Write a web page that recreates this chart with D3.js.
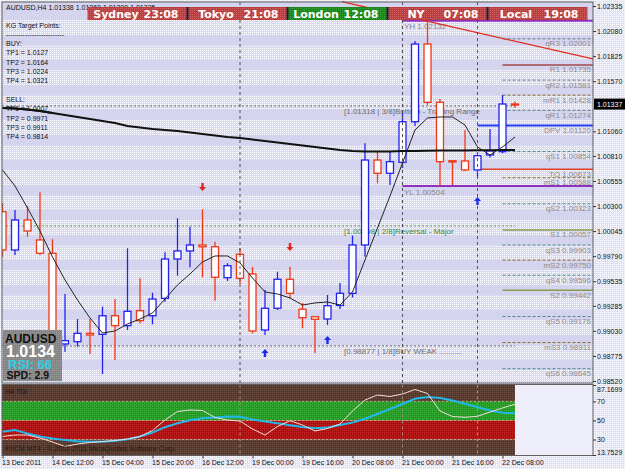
<!DOCTYPE html>
<html>
<head>
<meta charset="utf-8">
<script src="https://cdn.jsdelivr.net/npm/d3@7"></script>
<style>
body { margin: 0; background: #e6e6f6; }
svg { display: block; font-family: "Liberation Sans", Arial, sans-serif; }
</style>
</head>
<body>
<div id="chart"></div>
<script>
let W = 625, H = 469;
let svg = d3.select("#chart").append("svg").attr("width", W).attr("height", H);

/* ---------------- data ---------------- */
let opens  = [1.00242, 0.99853, 1.00158, 0.99955, 0.99819, 0.98897, 0.98920, 0.99005, 0.98995, 0.99184, 0.99083, 0.99235, 0.99184, 0.99361, 0.99761, 0.99843, 0.99904, 0.99886, 0.99571, 0.99809, 0.99609, 0.99039, 0.99260, 0.99555, 0.99250, 0.99174, 0.99151, 0.99288, 0.99412, 0.99904, 1.00768, 1.00633, 1.00745, 1.01158, 1.01948, 1.01355, 1.00761, 1.00758, 1.00667, 1.00819, 1.00853, 1.01338];
let highs  = [1.00331, 1.00260, 1.00300, 1.00440, 0.99962, 0.99405, 0.99151, 0.99151, 0.99276, 0.99354, 0.99870, 0.99565, 0.99418, 0.99829, 1.00175, 1.00090, 1.00267, 0.99937, 0.99718, 0.99873, 0.99680, 0.99446, 0.99632, 0.99683, 0.99314, 0.99174, 0.99395, 0.99517, 1.00000, 1.00938, 1.00853, 1.00853, 1.01243, 1.01979, 1.02185, 1.01389, 1.00768, 1.01074, 1.00850, 1.01084, 1.01430, 1.01360];
let lows   = [0.99785, 0.99802, 0.99988, 0.99802, 0.98886, 0.98818, 0.98869, 0.98795, 0.98591, 0.98734, 0.99039, 0.99107, 0.99097, 0.99327, 0.99591, 0.99677, 0.99575, 0.99337, 0.99537, 0.99507, 0.99005, 0.98988, 0.99242, 0.99361, 0.99056, 0.98805, 0.99090, 0.99253, 0.99370, 0.99785, 1.00531, 1.00514, 1.00687, 1.01114, 1.01328, 1.00504, 1.00514, 1.00656, 1.00590, 1.00794, 1.00837, 1.01300];
let closes = [0.99853, 1.00158, 1.00046, 0.99819, 0.98958, 0.98930, 0.99005, 0.98988, 0.99184, 0.99083, 0.99229, 0.99134, 0.99354, 0.99761, 0.99843, 0.99904, 0.99886, 0.99575, 0.99693, 0.99565, 0.99029, 0.99260, 0.99555, 0.99412, 0.99164, 0.99148, 0.99286, 0.99412, 0.99904, 1.00768, 1.00633, 1.00751, 1.01158, 1.01948, 1.01355, 1.00751, 1.00748, 1.00667, 1.00812, 1.00860, 1.01338, 1.01335];

let maFast = [1.00667, 1.00504, 1.00280, 1.00046, 0.99782, 0.99548, 0.99344, 0.99161, 0.99008, 0.99029, 0.99100, 0.99151, 0.99212, 0.99354, 0.99497, 0.99609, 0.99731, 0.99792, 0.99792, 0.99721, 0.99568, 0.99426, 0.99405, 0.99365, 0.99293, 0.99314, 0.99324, 0.99293, 0.99426, 0.99751, 1.00077, 1.00402, 1.00738, 1.01074, 1.01196, 1.01206, 1.01206, 1.01124, 1.00901, 1.00819, 1.00901, 1.01002];
let maSlow = [1.01297, 1.01292, 1.01282, 1.01267, 1.01247, 1.01226, 1.01206, 1.01185, 1.01165, 1.01145, 1.01115, 1.01099, 1.01084, 1.01074, 1.01063, 1.01048, 1.01033, 1.01018, 1.01002, 1.00992, 1.00977, 1.00962, 1.00946, 1.00931, 1.00916, 1.00901, 1.00885, 1.00870, 1.00860, 1.00855, 1.00855, 1.00855, 1.00860, 1.00860, 1.00862, 1.00864, 1.00865, 1.00866, 1.00867, 1.00868, 1.00869, 1.00870];

let tdiRsi    = [33.16, 34.73, 34.73, 31.58, 27.39, 22.67, 25.29, 26.86, 27.91, 28.96, 30.53, 33.16, 39.45, 50.46, 59.38, 60.95, 60.43, 53.08, 50.46, 49.41, 41.02, 34.73, 43.64, 49.73, 45.22, 38.92, 41.55, 46.27, 59.90, 71.44, 76.68, 75.11, 77.73, 82.45, 78.26, 59.90, 54.13, 53.29, 54.34, 58.85, 63.05, 66.93];
let tdiSignal = [38.19, 39.97, 36.30, 33.16, 31.06, 29.49, 28.23, 27.70, 27.70, 28.65, 30.32, 33.16, 37.35, 42.91, 47.11, 50.25, 52.35, 53.19, 54.24, 53.92, 50.88, 48.89, 47.00, 45.01, 43.12, 41.86, 42.49, 45.22, 47.73, 51.82, 56.75, 62.00, 67.24, 72.70, 74.58, 73.54, 70.81, 67.45, 63.78, 60.43, 58.01, 57.49];
let tdiTicks  = [87.1699, 70, 50, 30, 13.7529];
let tdiLevels = [70, 50, 30];

let priceTicks = [1.02335, 1.02080, 1.01825, 1.01570, 1.01060, 1.00810, 1.00555, 1.00300, 1.00045, 0.99790, 0.99535, 0.99285, 0.99030, 0.98775, 0.98520];
let bidPrice = 1.01337;

let timeBars   = [0, 4, 8, 12, 16, 20, 24, 28, 32, 36, 40];
let timeLabels = ["13 Dec 2011", "14 Dec 12:00", "15 Dec 04:00", "15 Dec 20:00", "16 Dec 12:00", "19 Dec 00:00", "19 Dec 16:00", "20 Dec 08:00", "21 Dec 00:00", "21 Dec 16:00", "22 Dec 08:00"];
let separatorBars = [19, 32, 38];

let pivotNames  = ["qR3", "R1", "qR2", "mR1", "qR1", "DPV", "qS1", "TO", "mS1", "qS2", "S1", "qS3", "mS2", "qS4", "S2", "qS5", "mS3", "qS6"];
let pivotValues = [1.02001, 1.01735, 1.01581, 1.01428, 1.01274, 1.01120, 1.00854, 1.00673, 1.00588, 1.00323, 1.00057, 0.99903, 0.99750, 0.99596, 0.99442, 0.99176, 0.98911, 0.98645];

let murrayValues = [1.01318, 1.00098, 0.98877];
let murrayLabels = ["[1.01318 | 3/8]Bottom - Trading Range", "[1.00098 | 2/8]Reversal - Major", "[0.98877 | 1/8]BUY WEAK .........."];

let yhLabel = 1.02132, ylLabel = 1.00504;

let upArrowBars = [21, 26, 38], upArrowPrices = [0.98805, 0.98937, 1.00351];
let downArrowBars = [16, 23], downArrowPrices = [1.00494, 0.99883];

let trendBars = [27.14, 47.24], trendPrices = [1.02379, 1.01796];

let sessionNames = ["Sydney", "Tokyo", "London", "NY", "Local"];
let sessionTimes = ["23:08", "21:08", "12:08", "07:08", "19:08"];

let buyTP  = ["1.0127", "1.0164", "1.0224", "1.0321"];
let sellTP = ["1.0007", "0.9971", "0.9911", "0.9814"];
let rsiNow = 66, spread = 2.9;

/* ---------------- scales ---------------- */
let mainL = 2, mainR = 593, mainT = 2, mainB = 383, bandR = 515;
let tdiT = 384.5, tdiB = 455.5;
let x  = d3.scaleLinear().domain([0, 41]).range([2.5, 515]);
let y  = d3.scaleLinear().domain([0.98520, 1.02335]).range([381, 6]);
let yT = d3.scaleLinear().domain([13.7529, 87.1699]).range([455, 385]);
let bars = d3.range(opens.length);

/* ---------------- background ---------------- */
let defs = svg.append("defs");
function dotPattern(id, base, dot) {
  let p = defs.append("pattern").attr("id", id).attr("width", 2).attr("height", 2).attr("patternUnits", "userSpaceOnUse");
  p.append("rect").attr("width", 2).attr("height", 2).attr("fill", base);
  p.append("rect").attr("width", 1).attr("height", 1).attr("fill", dot);
}
dotPattern("dots", "#d9d9f2", "#ffffff");
dotPattern("dotsAxis", "#e2e2f6", "#ffffff");
dotPattern("dotsBrown", "#55372c", "#6e5044");
dotPattern("dotsGreen", "#249a24", "#3cae3c");
dotPattern("dotsRed", "#aa0e0e", "#c42a2a");
dotPattern("dotsRedBox", "#bb3e3e", "#cf6060");
dotPattern("dotsGreenBox", "#1c861c", "#35a035");
dotPattern("dotsGrey", "#848484", "#9a9a9a");

defs.append("clipPath").attr("id", "clipMain").append("rect")
  .attr("x", mainL).attr("y", 0).attr("width", mainR - mainL).attr("height", mainB);
defs.append("clipPath").attr("id", "clipTdi").append("rect")
  .attr("x", mainL).attr("y", tdiT).attr("width", mainR - mainL).attr("height", tdiB - tdiT);

svg.append("rect").attr("width", W).attr("height", H).attr("fill", "url(#dotsAxis)");
svg.append("rect").attr("x", mainL).attr("y", mainT).attr("width", mainR - mainL).attr("height", mainB - mainT).attr("fill", "#d4d4ee");
for (let s = 20; s < mainB - 6; s += 25) {
  svg.append("rect").attr("x", mainL).attr("y", s).attr("width", mainR - mainL).attr("height", 15).attr("fill", "url(#dots)");
}

let gMain = svg.append("g").attr("clip-path", "url(#clipMain)");

/* murray math levels */
murrayValues.forEach((v, k) => {
  gMain.append("line").attr("x1", mainL).attr("x2", bandR).attr("y1", y(v)).attr("y2", y(v))
    .attr("stroke", k == 1 ? "#6a9a6a" : "#6a6a72").attr("stroke-dasharray", "2,2");
  gMain.append("text").attr("x", 344).attr("y", y(v) + 8).attr("font-size", 8)
    .attr("fill", k == 1 ? "#3a8a3a" : "#6c6c6c").text(murrayLabels[k]);
});

/* pivot lines */
pivotNames.forEach((n, k) => {
  let startBar = (n == "DPV" || n == "TO") ? 38 : 40;
  let stroke = "#6a7a84", dash = "3,2", sw = 1;
  if (n == "DPV") { stroke = "#2040f0"; dash = null; sw = 2; }
  else if (n == "TO") { stroke = "#e04028"; dash = null; sw = 1.5; }
  else if (n[0] == "R") { stroke = "#a04848"; dash = null; sw = 1.5; }
  else if (n[0] == "S") { stroke = "#8a9a50"; dash = null; sw = 1.5; }
  else if (n[0] == "m") { stroke = "#8a6a24"; }
  else if (n.indexOf("S") > 0) { stroke = "#4a8a8a"; }
  gMain.append("line").attr("x1", x(startBar)).attr("x2", mainR).attr("y1", y(pivotValues[k])).attr("y2", y(pivotValues[k]))
    .attr("stroke", stroke).attr("stroke-width", sw).attr("stroke-dasharray", dash);
});

/* yesterday high / low */
let yhPrice = highs[34], ylPrice = lows[35];
[yhPrice, ylPrice].forEach(v => {
  gMain.append("line").attr("x1", x(32)).attr("x2", mainR).attr("y1", y(v)).attr("y2", y(v))
    .attr("stroke", "#9030c0").attr("stroke-width", 2);
});
gMain.append("text").attr("x", 404).attr("y", y(yhPrice) + 8).attr("font-size", 8).attr("fill", "#888").text("YH " + yhLabel.toFixed(5));
gMain.append("text").attr("x", 404).attr("y", y(ylPrice) + 9).attr("font-size", 8).attr("fill", "#888").text("YL " + ylLabel.toFixed(5));

/* separators */
separatorBars.forEach(b => {
  svg.append("line").attr("x1", x(b)).attr("x2", x(b)).attr("y1", mainT).attr("y2", tdiB)
    .attr("stroke", "#505050").attr("stroke-dasharray", "3,3");
});

/* candles */
let candle = gMain.selectAll("g.candle").data(bars).join("g").attr("class", "candle");
let colOf = i => closes[i] >= opens[i] ? "#2222ee" : "#ee3816";
candle.append("line")
  .attr("x1", i => x(i)).attr("x2", i => x(i))
  .attr("y1", i => y(highs[i])).attr("y2", i => y(lows[i]))
  .attr("stroke", colOf).attr("stroke-width", 1.3);
candle.append("rect")
  .attr("x", i => x(i) - 3.5).attr("width", 7)
  .attr("y", i => y(Math.max(opens[i], closes[i])))
  .attr("height", i => Math.max(1, y(Math.min(opens[i], closes[i])) - y(Math.max(opens[i], closes[i]))))
  .attr("fill", "white").attr("stroke", colOf).attr("stroke-width", 1.3);

/* moving averages */
let maLine = d3.line().x((d, i) => x(i)).y(d => y(d));
gMain.append("path").attr("d", maLine(maSlow)).attr("fill", "none").attr("stroke", "#111").attr("stroke-width", 2);
gMain.append("path").attr("d", maLine(maFast)).attr("fill", "none").attr("stroke", "#222").attr("stroke-width", 1);

/* arrows */
let arrowUp = "M0,-4L3.5,0L1.2,0L1.2,4L-1.2,4L-1.2,0L-3.5,0Z";
upArrowBars.forEach((b, k) => {
  gMain.append("path").attr("d", arrowUp).attr("fill", "#1a2ae8")
    .attr("transform", "translate(" + x(b) + "," + y(upArrowPrices[k]) + ")");
});
downArrowBars.forEach((b, k) => {
  gMain.append("path").attr("d", arrowUp).attr("fill", "#e02418")
    .attr("transform", "translate(" + x(b) + "," + y(downArrowPrices[k]) + ") scale(1,-1)");
});

/* pivot labels */
pivotNames.forEach((n, k) => {
  gMain.append("text").attr("x", 591).attr("y", y(pivotValues[k]) + 7.5).attr("text-anchor", "end")
    .attr("font-size", 8).attr("fill", "#8c8c8c").text(n + " " + pivotValues[k].toFixed(5));
});

/* target points text */
let tpLines = ["KG Target Points:", "-------------------------", "BUY:"]
  .concat(buyTP.map((v, k) => "TP" + (k + 1) + " = " + v))
  .concat(["", "SELL:"])
  .concat(sellTP.map((v, k) => "TP" + (k + 1) + " = " + v));
tpLines.forEach((t, k) => {
  svg.append("text").attr("x", 6).attr("y", 27.5 + 9.3 * k).attr("font-size", 7).attr("fill", "#111").text(t);
});
svg.append("text").attr("x", 6).attr("y", 10).attr("font-size", 7).attr("fill", "#111")
  .text("AUDUSD,H4  " + [opens[41], highs[41], lows[41], closes[41]].map(v => v.toFixed(5)).join(" "));

/* redraw the slow MA over the SELL TP1 line like the original */
gMain.append("path").attr("d", maLine(maSlow.slice(0, 5))).attr("fill", "none").attr("stroke", "#111").attr("stroke-width", 2);

/* info box */
svg.append("rect").attr("x", 3).attr("y", 330).attr("width", 59).attr("height", 51).attr("fill", "url(#dotsGrey)");
svg.append("text").attr("x", 5).attr("y", 343).attr("font-size", 12).attr("font-weight", "bold").attr("fill", "#111").text("AUDUSD");
svg.append("text").attr("x", 6).attr("y", 357).attr("font-size", 16).attr("font-weight", "bold").attr("fill", "#fff").text(closes[40].toFixed(4));
svg.append("text").attr("x", 8).attr("y", 368.5).attr("font-size", 13).attr("font-weight", "bold").attr("fill", "#2ed0e6").text("RSI: " + rsiNow);
svg.append("text").attr("x", 6.5).attr("y", 379).attr("font-size", 10.5).attr("font-weight", "bold").attr("fill", "#111").text("SPD: " + spread);

/* session clocks */
sessionNames.forEach((n, k) => {
  let bx = 87.5 + 100 * k;
  svg.append("rect").attr("x", bx).attr("y", 7).attr("width", 100).attr("height", 13)
    .attr("fill", n == "London" ? "url(#dotsGreenBox)" : "url(#dotsRedBox)");
  svg.append("text").attr("x", bx + 28.5).attr("y", 18).attr("text-anchor", "middle")
    .attr("font-family", "DejaVu Sans").attr("font-size", 11).attr("font-weight", "bold").attr("fill", "#fff").text(n);
  svg.append("text").attr("x", bx + 91).attr("y", 18).attr("text-anchor", "end")
    .attr("font-family", "DejaVu Sans").attr("font-size", 11).attr("font-weight", "bold").attr("fill", "#fff").text(sessionTimes[k]);
  if (k > 0) svg.append("rect").attr("x", bx - 1).attr("y", 7).attr("width", 2).attr("height", 13).attr("fill", "#1a2040");
});

/* trend line */
gMain.append("line")
  .attr("x1", x(trendBars[0])).attr("y1", y(trendPrices[0]))
  .attr("x2", x(trendBars[1])).attr("y2", y(trendPrices[1]))
  .attr("stroke", "#e02a1a").attr("stroke-width", 1.2);

/* ---------------- TDI panel ---------------- */
let gT = svg.append("g").attr("clip-path", "url(#clipTdi)");
gT.append("rect").attr("x", mainL).attr("y", tdiT).attr("width", mainR - mainL).attr("height", tdiB - tdiT).attr("fill", "#eeeefa");
let bandEdges = [87.1699, 70, 50, 30, 13.7529];
let bandFills = ["url(#dotsBrown)", "url(#dotsGreen)", "url(#dotsRed)", "url(#dotsBrown)"];
bandFills.forEach((f, k) => {
  gT.append("rect").attr("x", mainL).attr("width", bandR - mainL)
    .attr("y", yT(bandEdges[k]) - (k == 0 ? 1 : 0))
    .attr("height", yT(bandEdges[k + 1]) - yT(bandEdges[k]) + (k == 0 || k == 3 ? 1.5 : 0))
    .attr("fill", f);
});
tdiLevels.forEach(v => {
  gT.append("line").attr("x1", mainL).attr("x2", bandR).attr("y1", yT(v)).attr("y2", yT(v))
    .attr("stroke", "#d8c890").attr("stroke-opacity", 0.7).attr("stroke-dasharray", "2,2");
});
separatorBars.forEach(b => {
  gT.append("line").attr("x1", x(b)).attr("x2", x(b)).attr("y1", tdiT).attr("y2", tdiB)
    .attr("stroke", "#a09080").attr("stroke-dasharray", "3,3");
});
let tdiLine = d3.line().x((d, i) => x(i)).y(d => yT(d));
gT.append("path").attr("d", tdiLine(tdiSignal)).attr("fill", "none").attr("stroke", "#22b8ec").attr("stroke-width", 2);
gT.append("path").attr("d", tdiLine(tdiRsi)).attr("fill", "none").attr("stroke", "#f4dcdc").attr("stroke-width", 1);
gT.append("text").attr("x", 5).attr("y", 394).attr("font-size", 7).attr("fill", "#151515").text("H4 TDI");
gT.append("text").attr("x", 5).attr("y", 451).attr("font-size", 7).attr("fill", "#241812").text("FXCM MT4 - \u00a9 2001-2011 MetaQuotes Software Corp.");

/* ---------------- frames ---------------- */
svg.append("rect").attr("x", mainL).attr("y", mainT).attr("width", mainR - mainL).attr("height", mainB - mainT)
  .attr("fill", "none").attr("stroke", "#606060").attr("stroke-width", 1);
svg.append("rect").attr("x", mainL).attr("y", tdiT).attr("width", mainR - mainL).attr("height", tdiB - tdiT)
  .attr("fill", "none").attr("stroke", "#606060").attr("stroke-width", 1);

/* ---------------- axes ---------------- */
let axP = svg.append("g").attr("transform", "translate(" + mainR + ",0)")
  .call(d3.axisRight(y).tickValues(priceTicks).tickFormat(d3.format(".5f")).tickSize(3).tickSizeOuter(0));
axP.select(".domain").remove();
axP.selectAll("line").attr("stroke", "#333");
axP.selectAll("text").attr("font-size", 7).attr("fill", "#111").attr("x", 4).attr("font-family", "Liberation Sans");

svg.append("rect").attr("x", mainR + 1).attr("y", y(bidPrice) - 5.5).attr("width", 32).attr("height", 11).attr("fill", "#000");
svg.append("text").attr("x", mainR + 4).attr("y", y(bidPrice) + 2.5).attr("font-size", 7).attr("fill", "#fff").text(bidPrice.toFixed(5));

let axT = svg.append("g").attr("transform", "translate(" + mainR + ",0)")
  .call(d3.axisRight(yT).tickValues(tdiTicks).tickFormat(d => (d % 1) ? d.toFixed(4) : d).tickSize(3).tickSizeOuter(0));
axT.select(".domain").remove();
axT.selectAll("line").attr("stroke", "#333");
axT.selectAll("text").attr("font-size", 7).attr("fill", "#111").attr("x", 4).attr("font-family", "Liberation Sans")
  .attr("dy", (d, i) => i == 0 ? "0.9em" : (i == tdiTicks.length - 1 ? "-0.1em" : "0.32em"));

let axX = svg.append("g").attr("transform", "translate(0," + tdiB + ")")
  .call(d3.axisBottom(x).tickValues(timeBars).tickFormat((d, i) => timeLabels[i]).tickSize(3).tickSizeOuter(0));
axX.select(".domain").remove();
axX.selectAll("line").attr("stroke", "#333");
axX.selectAll("text").attr("font-size", 7).attr("fill", "#111").attr("text-anchor", "start").attr("x", -1).attr("y", 4.5)
  .attr("font-family", "Liberation Sans");
</script>
</body>
</html>
